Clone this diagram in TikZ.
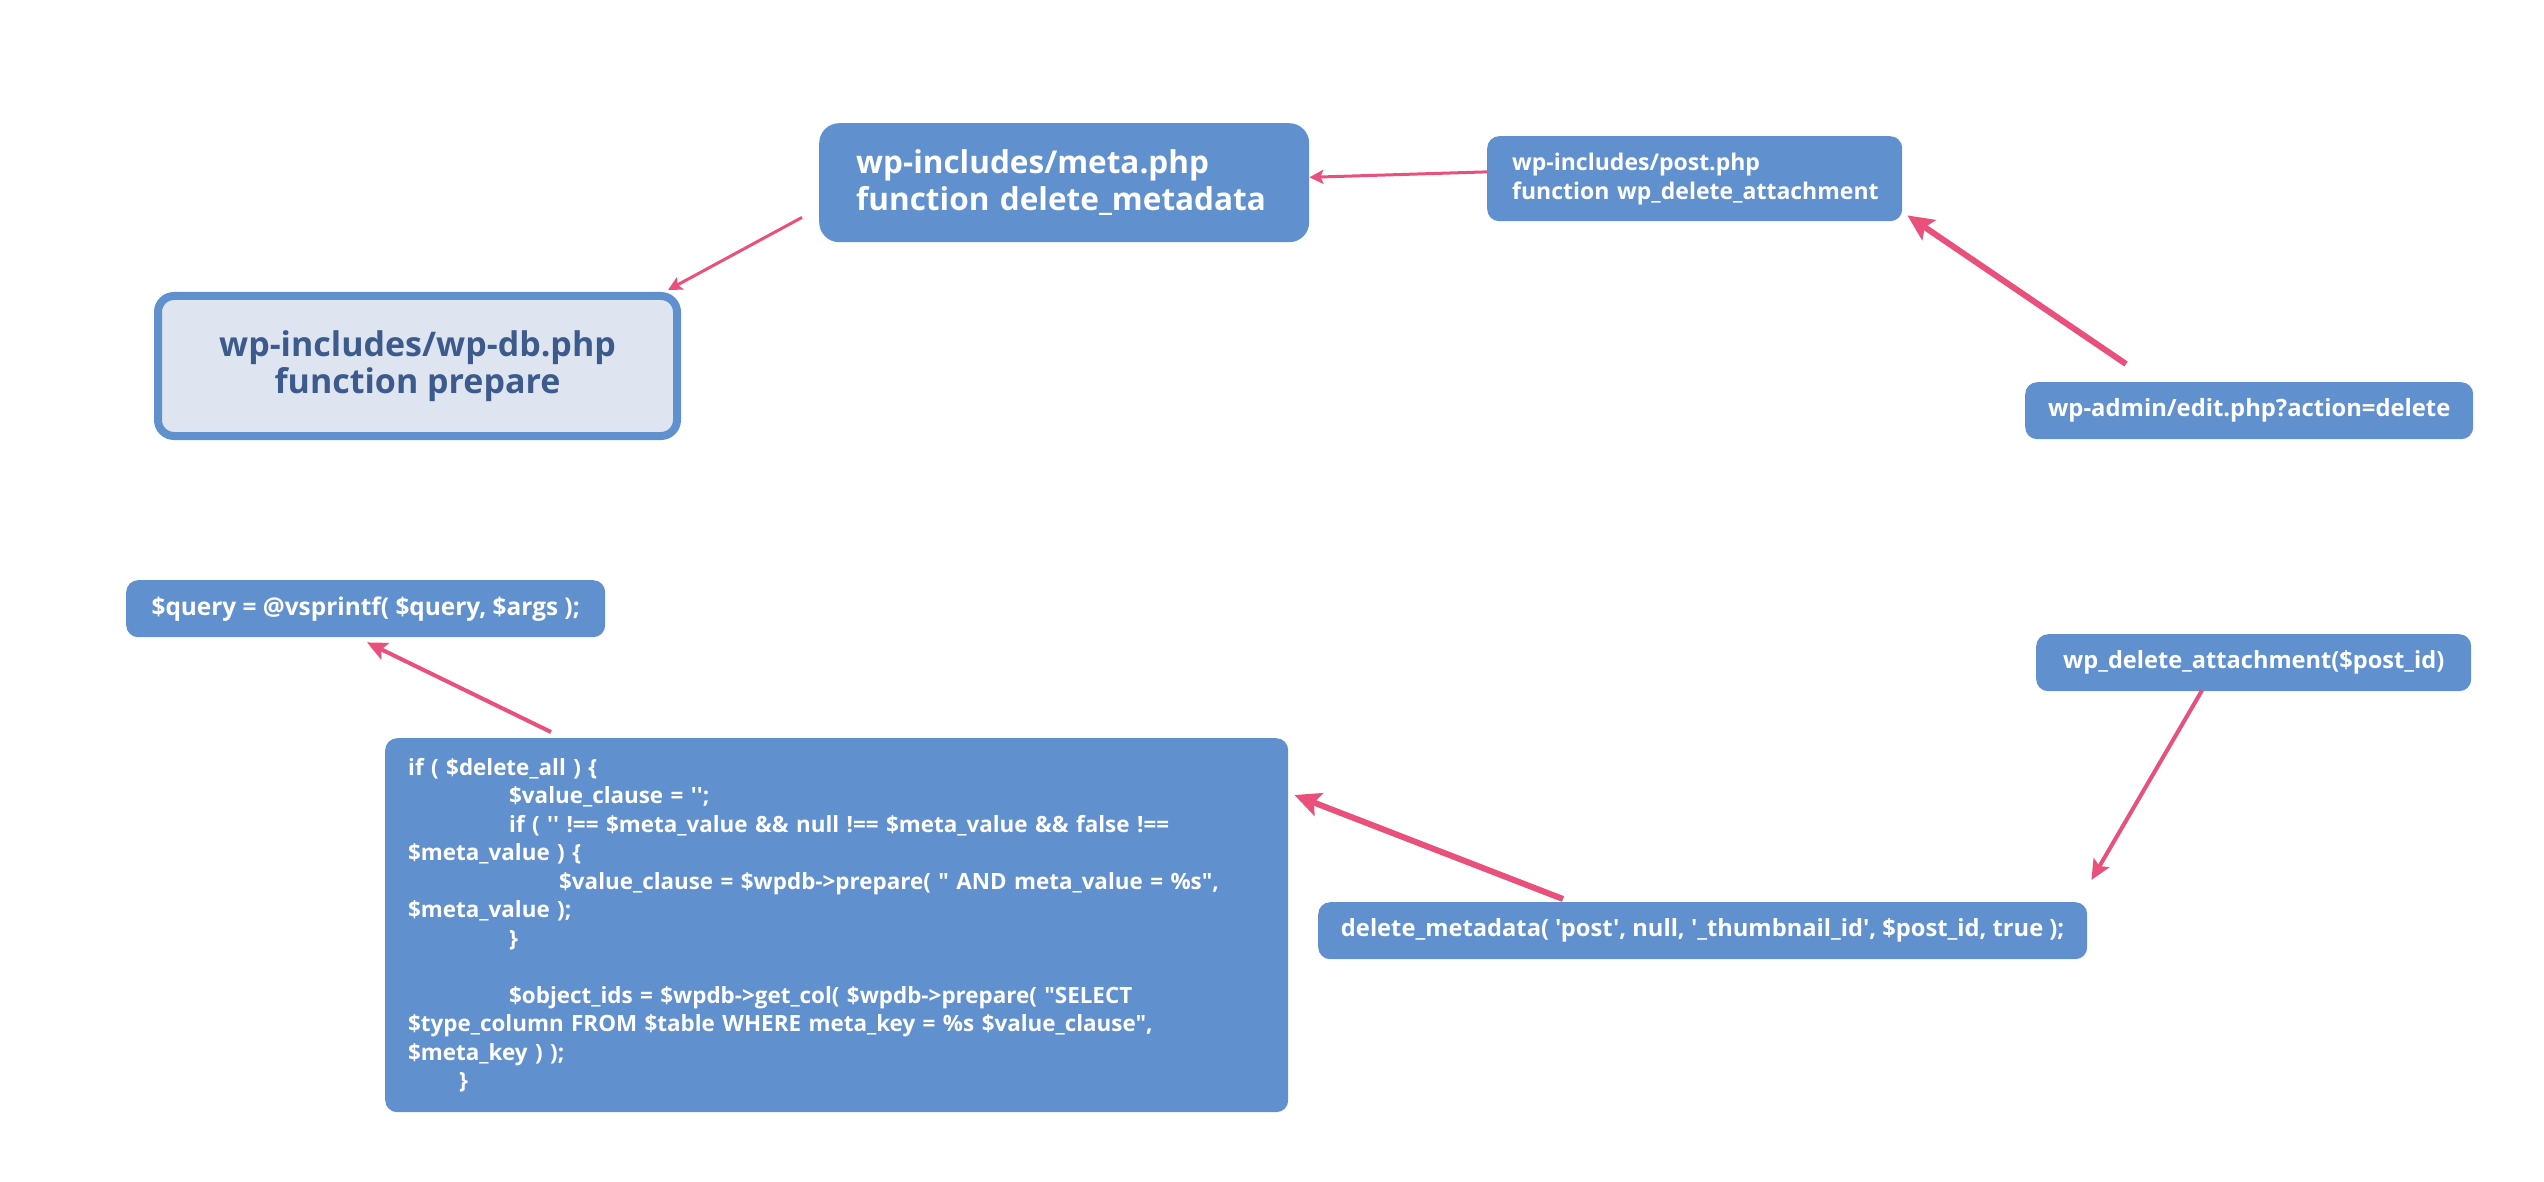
\documentclass[tikz,border=0pt]{standalone}
\usepackage{fontspec}
\newfontfamily\df{Open Sans}
\usetikzlibrary{arrows.meta,calc}
\definecolor{boxblue}{HTML}{6190CF}
\definecolor{dbfill}{HTML}{DEE5F1}
\definecolor{dbtext}{HTML}{3C5B8C}
\definecolor{arrowpink}{HTML}{E9507C}
\tikzset{
  box/.style={fill=boxblue, text=white, rounded corners=12pt, inner sep=0pt, anchor=north west},
  thinflow/.style={draw=arrowpink, line width=3pt, -{Stealth[length=14pt,width=14pt,inset=3pt]}},
  midflow/.style={draw=arrowpink, line width=4pt, -{Stealth[length=20pt,width=18pt,inset=4pt]}},
  thickflow/.style={draw=arrowpink, line width=6pt, -{Stealth[length=26pt,width=24pt,inset=5pt]}},
}
\begin{document}
\begin{tikzpicture}[x=1pt,y=-1pt]
\useasboundingbox (0,0) rectangle (2544,1182);
\fill[white] (0,0) rectangle (2544,1182);

% boxes
\node[box, rounded corners=20pt, minimum width=490pt, minimum height=119pt, text width=416pt, align=left,
      font=\df\bfseries\fontsize{31.5}{37}\selectfont] (meta) at (819,123)
  {wp-includes/meta.php\\function delete\_metadata};

\node[box, minimum width=415pt, minimum height=85pt, text width=365pt, align=left,
      font=\df\bfseries\fontsize{23}{29}\selectfont] (post) at (1487,136)
  {\mbox{wp-includes/post.php}\\\mbox{function wp\_delete\_attachment}};

\node[box, fill=dbfill, draw=boxblue, line width=8pt, rounded corners=16pt, text=dbtext,
      minimum width=519pt, minimum height=140pt, align=center,
      font=\df\bfseries\fontsize{34}{37}\selectfont] (wpdb) at (154,292)
  {wp-includes/wp-db.php\\function prepare};

\node[box, minimum width=448pt, minimum height=57pt, font=\df\bfseries\fontsize{23.8}{28}\selectfont] (edit) at (2025,382)
  {wp-admin/edit.php?action=delete};

\node[box, minimum width=435pt, minimum height=57pt, font=\df\bfseries\fontsize{23.6}{28}\selectfont] (wpdel) at (2036,634)
  {wp\_delete\_attachment(\$post\_id)};

\node[box, minimum width=769pt, minimum height=57pt, font=\df\bfseries\fontsize{23.7}{28}\selectfont] (delmeta) at (1318,902)
  {delete\_metadata( 'post', null, '\_thumbnail\_id', \$post\_id, true );};

\node[box, minimum width=479pt, minimum height=57pt, font=\df\bfseries\fontsize{24.4}{28}\selectfont] (query) at (126,580)
  {\$query = @vsprintf( \$query, \$args );};

\node[box, minimum width=903pt, minimum height=374pt, text width=857pt, align=left,
      font=\df\bfseries\fontsize{22.4}{28.5}\selectfont] (code) at (385,738)
  {if ( \$delete\_all ) \{\\
   \hspace*{101pt}\$value\_clause = '';\\
   \hspace*{101pt}if ( '' !== \$meta\_value \&\& null !== \$meta\_value \&\& false !==\\
   \$meta\_value ) \{\\
   \hspace*{151pt}\$value\_clause = \$wpdb->prepare( " AND meta\_value = \%s",\\
   \$meta\_value );\\
   \hspace*{101pt}\}\\
   \mbox{}\\
   \hspace*{101pt}\$object\_ids = \$wpdb->get\_col( \$wpdb->prepare( "SELECT\\
   \$type\_column FROM \$table WHERE meta\_key = \%s \$value\_clause",\\
   \$meta\_key ) );\\
   \hspace*{51pt}\}};

% connectors
\draw[thinflow] ($(post.north west)!0.42!(post.south west)$) -- ($(meta.north east)!0.455!(meta.south east)$);
\draw[thinflow] ($(meta.south west)+(-17,-25)$) -- ($(wpdb.north east)+(-13,-2)$);
\draw[thickflow] ($(edit.north west)+(101,-18)$) -- ($(post.south east)+(5,-6)$);
\draw[midflow] ($(wpdel.south west)+(166,-1)$) -- ($(delmeta.north east)+(4,-22)$);
\draw[thickflow] ($(delmeta.north west)+(245,-3)$) -- ($(code.north east)+(6,57)$);
\draw[midflow] ($(code.north west)+(166,-6)$) -- ($(query.south west)+(241,5)$);
\end{tikzpicture}
\end{document}
